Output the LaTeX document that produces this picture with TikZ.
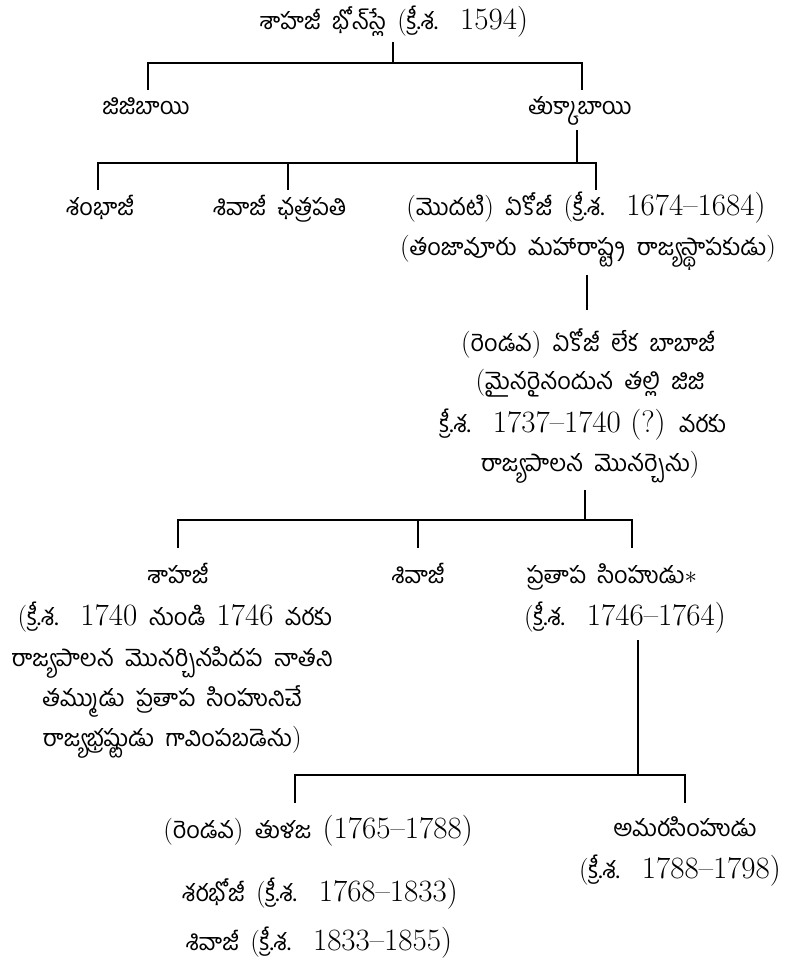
\documentclass[tikz,border=0pt]{standalone}
\usepackage{fontspec}
\newfontfamily\te[Script=Telugu,WordSpace=2]{Hind Guntur}
\newcommand\lm[1]{{\fontsize{31}{36}\selectfont\rmfamily #1}}
\newcommand\pp[1]{{\fontsize{27}{32}\selectfont\rmfamily #1}}
\newcommand\gp{\hspace{22pt}}
\begin{document}
\begin{tikzpicture}[x=1pt,y=-1pt,
  txt/.style={anchor=base,inner sep=0pt,font=\fontsize{23.5}{30}\selectfont\te},
  conn/.style={line width=1.8pt}]
\useasboundingbox (0,0) rectangle (793,968);
% texts
\node[txt] (top) at (394,30) {శాహజీ భోన్^^^^200cస్లే \pp{(}క్రీ.శ.\gp\lm{1594)}};
\node[txt] (jiji) at (146,115) {జిజిబాయి};
\node[txt] (tukka) at (580,115) {తుక్కాబాయి};
\node[txt] (shambha) at (100,215) {శంభాజీ};
\node[txt] (shivaC) at (280,215) {శివాజీ ఛత్రపతి};
\node[txt] (ekoji1) at (586,215) {\pp{(}మొదటి\pp{)} ఏకోజీ \pp{(}క్రీ.శ.\gp\lm{1674--1684)}};
\node[txt] (ekoji1b) at (588,255) {\pp{(}తంజావూరు మహారాష్ట్ర రాజ్యస్థాపకుడు\pp{)}};
\node[txt] (ekoji2) at (588,351) {\pp{(}రెండవ\pp{)} ఏకోజీ లేక బాబాజీ};
\node[txt] (ekoji2b) at (590,389) {\pp{(}మైనరైనందున తల్లి జిజి};
\node[txt] (ekoji2c) at (583,432) {క్రీ.శ.\gp\lm{1737--1740 (?)} వరకు};
\node[txt] (ekoji2d) at (590,471) {రాజ్యపాలన మొనర్చెను\pp{)}};
\node[txt] (shahaji) at (178,583) {శాహజీ};
\node[txt] (shivaji2) at (418,583) {శివాజీ};
\node[txt] (pratapa) at (612,583) {ప్రతాప సింహుడు{\fontsize{40}{40}\selectfont$\ast$}};
\node[txt] (shahajib) at (175,625) {\pp{(}క్రీ.శ.\gp\lm{1740} నుండి \lm{1746} వరకు};
\node[txt] (shahajic) at (172,666) {రాజ్యపాలన మొనర్చినపిదప నాతని};
\node[txt] (shahajid) at (172,706) {తమ్ముడు ప్రతాప సింహునిచే};
\node[txt] (shahajie) at (172,746) {రాజ్యభ్రష్టుడు గావింపబడెను\pp{)}};
\node[txt] (pratapab) at (625,625) {\pp{(}క్రీ.శ.\gp\lm{1746--1764)}};
\node[txt] (tulaja) at (318,838) {\pp{(}రెండవ\pp{)} తుళజ \lm{(1765--1788)}};
\node[txt] (amara) at (685,836) {అమరసింహుడు};
\node[txt] (amarab) at (680,878) {\pp{(}క్రీ.శ.\gp\lm{1788--1798)}};
\node[txt] (sharabhoji) at (320,901) {శరభోజీ \pp{(}క్రీ.శ.\gp\lm{1768--1833)}};
\node[txt] (shivaji3) at (319,950) {శివాజీ \pp{(}క్రీ.శ.\gp\lm{1833--1855)}};
% junction coordinates
\coordinate (b1) at (393,63);
\coordinate (b2) at (577,163);
\coordinate (b3) at (585,520);
\coordinate (b4) at (638,775);
% connectors
\draw[conn] (393,42) -- (b1);
\draw[conn] (148,90) -- (148,63) -- (582,63) -- (582,90);
\draw[conn] (577,130) -- (b2);
\draw[conn] (98,190) -- (98,163) -- (596,163) -- (596,190);
\draw[conn] (288,163) -- (288,190);
\draw[conn] (587,275) -- (587,310);
\draw[conn] (585,490) -- (b3);
\draw[conn] (178,548) -- (178,520) -- (632,520) -- (632,548);
\draw[conn] (418,520) -- (418,548);
\draw[conn] (638,640) -- (b4);
\draw[conn] (295,803) -- (295,775) -- (685,775) -- (685,803);
\end{tikzpicture}
\end{document}
